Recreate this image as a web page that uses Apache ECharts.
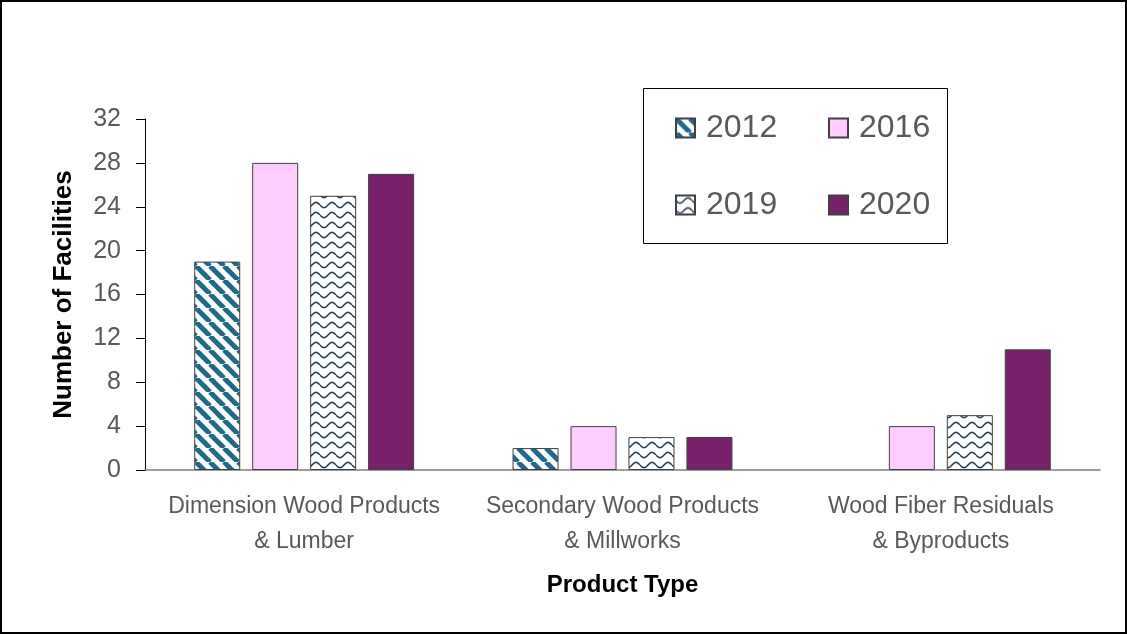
<!DOCTYPE html>
<html>
<head>
<meta charset="utf-8">
<script src="https://cdn.jsdelivr.net/npm/echarts@6/dist/echarts.min.js"></script>
<style>
  html, body { margin: 0; padding: 0; background: #fff; }
  #chart { width: 1127px; height: 634px; }
</style>
</head>
<body>
<div id="chart"></div>
<script>
const categories = ['Dimension Wood Products\n& Lumber', 'Secondary Wood Products\n& Millworks', 'Wood Fiber Residuals\n& Byproducts'];
const years = ['2012', '2016', '2019', '2020'];
const values2012 = [19, 2, '-'];
const values2016 = [28, 4, 4];
const values2019 = [25, 3, 5];
const values2020 = [27, 3, 11];
const yTicks = { min: 0, max: 32, interval: 4 };

// ── pattern fills ──
const stripeCanvas = (() => {
  const c = document.createElement('canvas');
  c.width = 14; c.height = 14;
  const ctx = c.getContext('2d');
  ctx.fillStyle = '#fff';
  ctx.fillRect(0, 0, 14, 14);
  ctx.strokeStyle = '#1f6a8c';
  ctx.lineWidth = 5;
  ctx.beginPath();
  for (let o = -14; o <= 28; o += 14) {
    ctx.moveTo(o, 0);
    ctx.lineTo(o + 14, 14);
  }
  ctx.stroke();
  return c;
})();

const waveCanvas = (() => {
  const c = document.createElement('canvas');
  c.width = 16; c.height = 10;
  const ctx = c.getContext('2d');
  ctx.fillStyle = '#fff';
  ctx.fillRect(0, 0, 16, 10);
  ctx.strokeStyle = '#1f3a56';
  ctx.lineWidth = 1.6;
  ctx.beginPath();
  for (let x = 0; x <= 16; x += 0.5) {
    const y = 5 + 2.6 * Math.sin((x / 16) * Math.PI * 2);
    if (x === 0) ctx.moveTo(x, y); else ctx.lineTo(x, y);
  }
  ctx.stroke();
  return c;
})();

const FILLS = {
  '2012': { image: stripeCanvas, repeat: 'repeat' },
  '2016': '#ffccff',
  '2019': { image: waveCanvas, repeat: 'repeat' },
  '2020': '#78206b',
};
const seriesValues = [values2012, values2016, values2019, values2020];

const chart = echarts.init(document.getElementById('chart'));
const legendText = {
  color: '#595959', fontSize: 32, fontFamily: 'Liberation Sans, Arial, sans-serif',
  padding: [0, 0, 0, 6],
};

chart.setOption({
  backgroundColor: '#fff',
  animation: false,
  graphic: [
    { type: 'rect', shape: { x: 1, y: 1, width: 1125, height: 632 }, style: { fill: 'none', stroke: '#000', lineWidth: 2 } },
    { type: 'rect', shape: { x: 643.5, y: 88.5, width: 304, height: 155 }, style: { fill: 'none', stroke: '#000', lineWidth: 1 } },
  ],
  legend: [
    {
      data: ['2012', '2019'], orient: 'vertical', left: 670, top: 107, itemGap: 45,
      itemWidth: 19, itemHeight: 19, icon: 'rect', textStyle: legendText,
    },
    {
      data: ['2016', '2020'], orient: 'vertical', left: 823, top: 107, itemGap: 45,
      itemWidth: 19, itemHeight: 19, icon: 'rect', textStyle: legendText,
    },
  ],
  grid: { left: 145, right: 27, top: 119, bottom: 164 },
  xAxis: {
    type: 'category',
    data: categories,
    axisLine: { lineStyle: { color: '#7f7f7f', width: 1.5 } },
    axisTick: { show: false },
    axisLabel: {
      interval: 0,
      color: '#595959', fontSize: 23, lineHeight: 35, margin: 19,
      fontFamily: 'Liberation Sans Narrow, Liberation Sans, sans-serif',
    },
    name: 'Product Type',
    nameLocation: 'middle',
    nameGap: 103,
    nameTextStyle: { color: '#000', fontSize: 24, fontWeight: 'bold', fontFamily: 'Liberation Sans Narrow, Liberation Sans, sans-serif' },
  },
  yAxis: {
    type: 'value',
    min: yTicks.min, max: yTicks.max, interval: yTicks.interval,
    axisLine: { show: true, lineStyle: { color: '#000', width: 1 } },
    axisTick: { show: true, length: 9, lineStyle: { color: '#000' } },
    splitLine: { show: false },
    axisLabel: { color: '#595959', fontSize: 25, margin: 24, fontFamily: 'Liberation Sans, Arial, sans-serif' },
    name: 'Number of Facilities',
    nameLocation: 'middle',
    nameGap: 68,
    nameTextStyle: { color: '#000', fontSize: 26, fontWeight: 'bold', fontFamily: 'Liberation Sans, Arial, sans-serif' },
  },
  series: years.map((year, i) => ({
    name: year,
    type: 'bar',
    data: seriesValues[i],
    barWidth: 46,
    barGap: '26%',
    itemStyle: { color: FILLS[year], borderColor: '#404040', borderWidth: 1 },
  })),
});
</script>
</body>
</html>
